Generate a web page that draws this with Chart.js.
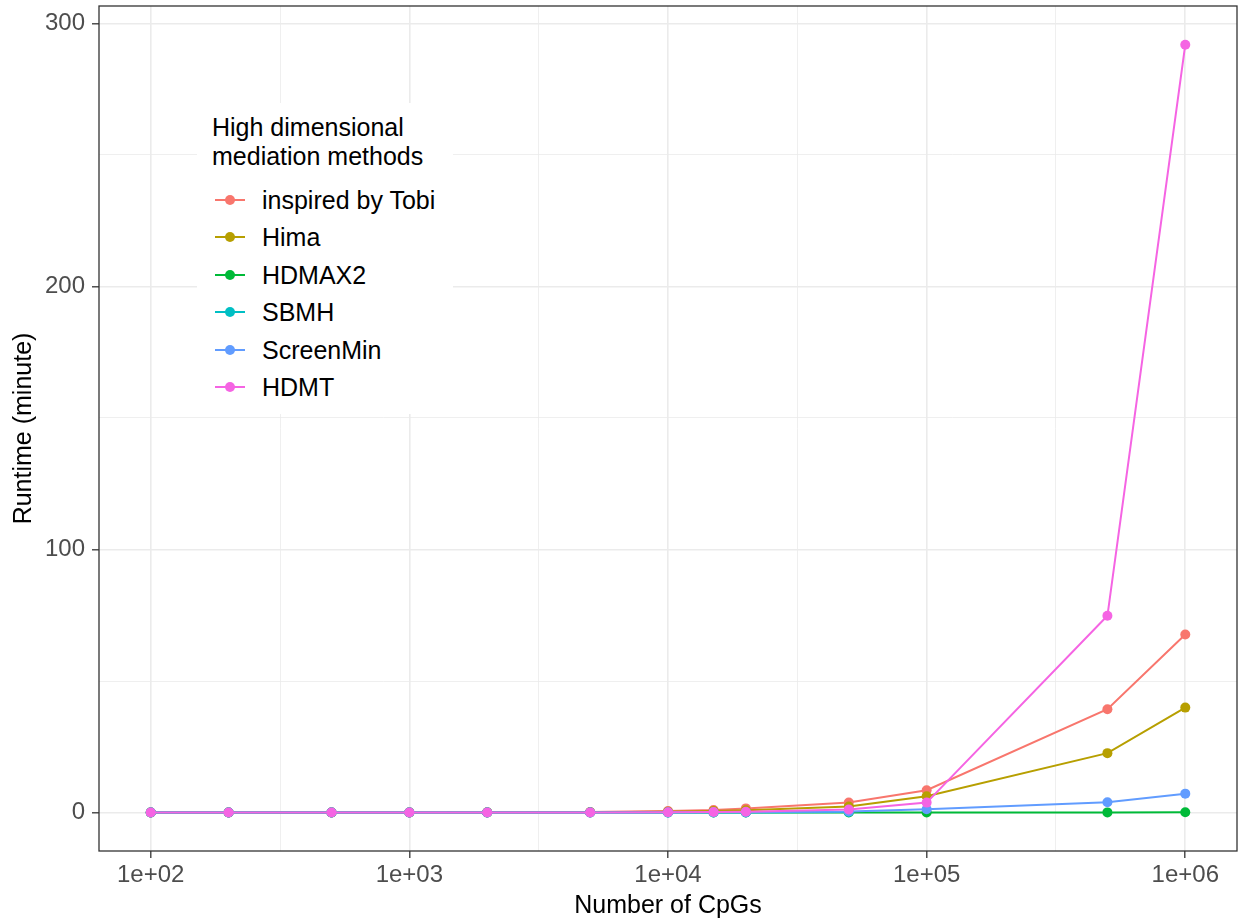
<!DOCTYPE html>
<html>
<head>
<meta charset="utf-8">
<script src="https://cdn.jsdelivr.net/npm/chart.js@4.4.1/dist/chart.umd.min.js"></script>
<style>
  body { margin: 0; background: #fff; }
  #wrap { position: relative; width: 1239px; height: 919px; }
  #legende {
    position: absolute; left: 197px; top: 103px; width: 256px; height: 311px;
    background: #fff; font-family: "Liberation Sans", Arial, sans-serif; color: #000;
  }
  #legende .tittel { position: absolute; left: 15px; top: 10px; font-size: 25px; line-height: 29px; }
  #legende .rad { position: absolute; left: 18px; height: 30px; font-size: 25px; line-height: 30px; }
  #legende .strek { position: absolute; left: 0; top: 14px; width: 30px; height: 2px; }
  #legende .prikk { position: absolute; left: 10px; top: 10px; width: 10px; height: 10px; border-radius: 50%; }
  #legende .navn { position: absolute; left: 47px; top: 0; white-space: nowrap; }
</style>
</head>
<body>
<div id="wrap">
  <canvas id="graf" width="1239" height="919"></canvas>
  <div id="legende"></div>
</div>
<script>
// antall CpGs (x) og kjøretid i minutter per metode
const antallCpG = [100, 200, 500, 1000, 2000, 5000, 10000, 15000, 20000, 50000, 100000, 500000, 1000000];
const metoder = ["inspired by Tobi", "Hima", "HDMAX2", "SBMH", "ScreenMin", "HDMT"];
const farger = ["#F8766D", "#B79F00", "#00BA38", "#00BFC4", "#619CFF", "#F564E3"];

const tobi = [0.02, 0.03, 0.05, 0.08, 0.12, 0.25, 0.6, 1.0, 1.6, 3.8, 8.5, 39.3, 67.7];
const hima = [0.01, 0.02, 0.03, 0.05, 0.08, 0.15, 0.35, 0.6, 0.9, 2.3, 6.2, 22.6, 39.9];
const hdmax2 = [0.01, 0.01, 0.01, 0.01, 0.01, 0.01, 0.01, 0.01, 0.01, 0.02, 0.03, 0.08, 0.15];
const sbmh = [0.01, 0.01, 0.01, 0.01, 0.01, 0.02, 0.03, 0.05, 0.07, 0.2, null, null, null];
const screenMin = [0.01, 0.01, 0.01, 0.02, 0.02, 0.03, 0.05, 0.1, 0.15, 0.4, 1.3, 3.9, 7.2];
const hdmt = [0.01, 0.01, 0.01, 0.02, 0.03, 0.05, 0.1, 0.2, 0.3, 1.2, 3.8, 74.8, 291.9];

const xTikker = [100, 1000, 10000, 100000, 1000000];
const xTikkTekst = ["1e+02", "1e+03", "1e+04", "1e+05", "1e+06"];
const yTikker = [0, 100, 200, 300];
const yHjelpelinjer = [50, 150, 250];

const serier = [tobi, hima, hdmax2, sbmh, screenMin, hdmt];
const skrift = '"Liberation Sans", Arial, sans-serif';

// mindre rutenett midt mellom tiere (log-skala)
const xHjelpelinjer = xTikker.slice(0, -1).map((v, i) => Math.sqrt(v * xTikker[i + 1]));

const datasett = serier.map((verdier, i) => ({
  label: metoder[i],
  data: antallCpG.map((x, j) => ({ x: x, y: verdier[j] })).filter((p) => p.y !== null),
  borderColor: farger[i],
  backgroundColor: farger[i],
  borderWidth: 2,
  pointRadius: 5,
  pointBorderWidth: 0,
  pointHoverRadius: 5,
  order: serier.length - i, // HDMT øverst, som i ggplot
}));

const rammePlugin = {
  id: "ramme",
  afterDraw(chart) {
    const { ctx, chartArea: a } = chart;
    ctx.save();
    ctx.strokeStyle = "#333333";
    ctx.lineWidth = 1.3;
    ctx.strokeRect(a.left, a.top, a.right - a.left, a.bottom - a.top);
    ctx.restore();
  },
};

const erHoved = (ctx) => ctx.tick && ctx.tick.major;

new Chart(document.getElementById("graf"), {
  type: "line",
  data: { datasets: datasett },
  options: {
    responsive: false,
    animation: false,
    devicePixelRatio: 1,
    layout: { autoPadding: false, padding: { top: 6, right: 2, left: 0, bottom: 0 } },
    plugins: { legend: { display: false }, tooltip: { enabled: false } },
    scales: {
      x: {
        type: "logarithmic",
        min: Math.pow(10, 1.8),
        max: Math.pow(10, 6.2),
        afterBuildTicks(skala) {
          const alle = xTikker.map((v) => ({ value: v, major: true }))
            .concat(xHjelpelinjer.map((v) => ({ value: v, major: false })));
          skala.ticks = alle.sort((a, b) => a.value - b.value);
        },
        afterFit(skala) {
          skala.height = 68;
          skala.paddingLeft = 0;
          skala.paddingRight = 0;
        },
        ticks: {
          autoSkip: false,
          maxRotation: 0,
          padding: 3,
          color: "#4D4D4D",
          font: { family: skrift, size: 24 },
          callback(verdi) {
            const k = xTikker.indexOf(verdi);
            return k >= 0 ? xTikkTekst[k] : "";
          },
        },
        grid: {
          color: "#EBEBEB",
          lineWidth: (ctx) => (erHoved(ctx) ? 1.6 : 0.8),
          tickColor: (ctx) => (erHoved(ctx) ? "#333333" : "rgba(0,0,0,0)"),
          tickLength: 7,
          tickWidth: 1.3,
        },
        border: { display: false },
        title: {
          display: true,
          text: "Number of CpGs",
          color: "#000",
          font: { family: skrift, size: 25 },
          padding: { top: 0, bottom: -2 },
        },
      },
      y: {
        type: "linear",
        min: -14.6,
        max: 306.6,
        afterBuildTicks(skala) {
          const alle = yTikker.map((v) => ({ value: v, major: true }))
            .concat(yHjelpelinjer.map((v) => ({ value: v, major: false })));
          skala.ticks = alle.sort((a, b) => a.value - b.value);
        },
        afterFit(skala) {
          skala.width = 99;
          skala.paddingTop = 0;
          skala.paddingBottom = 0;
        },
        ticks: {
          autoSkip: false,
          padding: 7,
          color: "#4D4D4D",
          font: { family: skrift, size: 24 },
          callback(verdi) {
            return yTikker.includes(verdi) ? String(verdi) : "";
          },
        },
        grid: {
          color: "#EBEBEB",
          lineWidth: (ctx) => (erHoved(ctx) ? 1.6 : 0.8),
          tickColor: (ctx) => (erHoved(ctx) ? "#333333" : "rgba(0,0,0,0)"),
          tickLength: 7,
          tickWidth: 1.3,
        },
        border: { display: false },
        title: {
          display: true,
          text: "Runtime (minute)",
          color: "#000",
          font: { family: skrift, size: 25 },
          padding: { top: 9, bottom: 0 },
        },
      },
    },
  },
  plugins: [rammePlugin],
});

// forklaring inne i plottet
const legende = document.getElementById("legende");
const tittel = document.createElement("div");
tittel.className = "tittel";
tittel.innerHTML = "High dimensional<br>mediation methods";
legende.appendChild(tittel);

metoder.forEach((navn, i) => {
  const rad = document.createElement("div");
  rad.className = "rad";
  rad.style.top = 82 + i * 37.4 + "px";
  rad.innerHTML =
    '<span class="strek" style="background:' + farger[i] + '"></span>' +
    '<span class="prikk" style="background:' + farger[i] + '"></span>' +
    '<span class="navn">' + navn + "</span>";
  legende.appendChild(rad);
});
</script>
</body>
</html>
